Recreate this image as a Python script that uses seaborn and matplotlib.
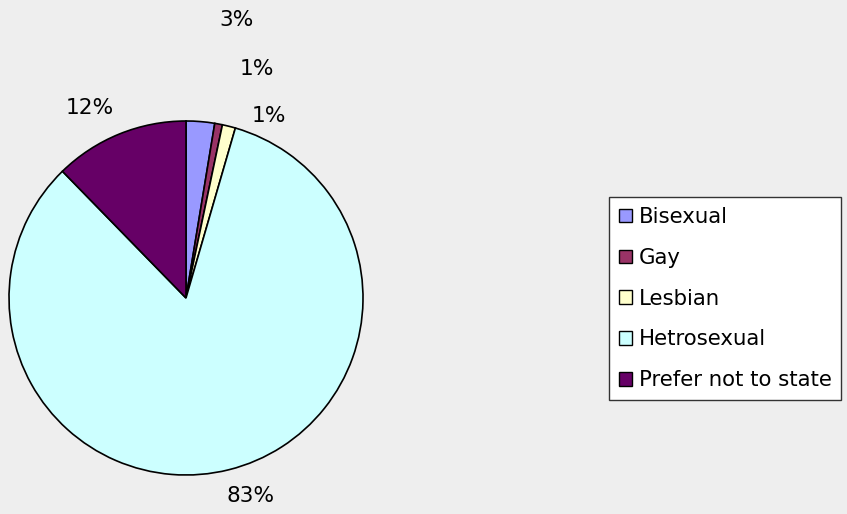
import matplotlib
matplotlib.use("Agg")
import matplotlib.pyplot as plt
from matplotlib.patches import Patch
import seaborn as sns

# Survey responses by sexual orientation (percent of respondents)
categories = ["Bisexual", "Gay", "Lesbian", "Hetrosexual", "Prefer not to state"]
shares = [2.6, 0.7, 1.2, 83.2, 12.3]
slice_colors = ["#9999FF", "#993366", "#FFFFCC", "#CCFFFF", "#660066"]

# Where each percentage label sits, in pie-radius units from the centre
label_pos = [(0.288, 1.571), (0.401, 1.294), (0.469, 1.028), (0.362, -1.119), (-0.542, 1.073)]

sns.set_style("white")
plt.rcParams["font.family"] = ["DejaVu Sans"]
plt.rcParams["text.color"] = "black"

bg = "#EEEEEE"
fs = 15.6
fig = plt.figure(figsize=(8.47, 5.14), dpi=100, facecolor=bg)
ax = fig.add_axes([9 / 847, (514 - 475) / 514, 354 / 847, 354 / 514])
ax.set_facecolor(bg)

wedges, _ = ax.pie(
    shares,
    colors=slice_colors,
    startangle=90,
    counterclock=False,
    radius=1.0,
    wedgeprops=dict(edgecolor="black", linewidth=1.2),
)
ax.set_xlim(-1.0, 1.0)
ax.set_ylim(-1.0, 1.0)
ax.set_aspect("equal")
ax.axis("off")

for val, (x, y) in zip(shares, label_pos):
    ax.text(x, y, f"{round(val):.0f}%", ha="center", va="center",
            fontsize=fs, color="black", clip_on=False)

handles = [Patch(facecolor=c, edgecolor="black", linewidth=1.0) for c in slice_colors]
leg = fig.legend(
    handles, categories,
    loc="upper left",
    bbox_to_anchor=(609 / 847, 1 - 197 / 514),
    bbox_transform=fig.transFigure,
    borderaxespad=0,
    fontsize=15.3,
    frameon=True,
    fancybox=False,
    handlelength=0.6,
    handleheight=0.6,
    handletextpad=0.32,
    labelspacing=0.98,
    borderpad=0.47,
)
for t in leg.get_texts():
    t.set_color("black")
leg.get_frame().set_edgecolor("#333333")
leg.get_frame().set_linewidth(1.0)
leg.get_frame().set_facecolor("white")
leg.get_frame().set_alpha(1.0)

fig.savefig("out.png", dpi=100, facecolor=bg)
